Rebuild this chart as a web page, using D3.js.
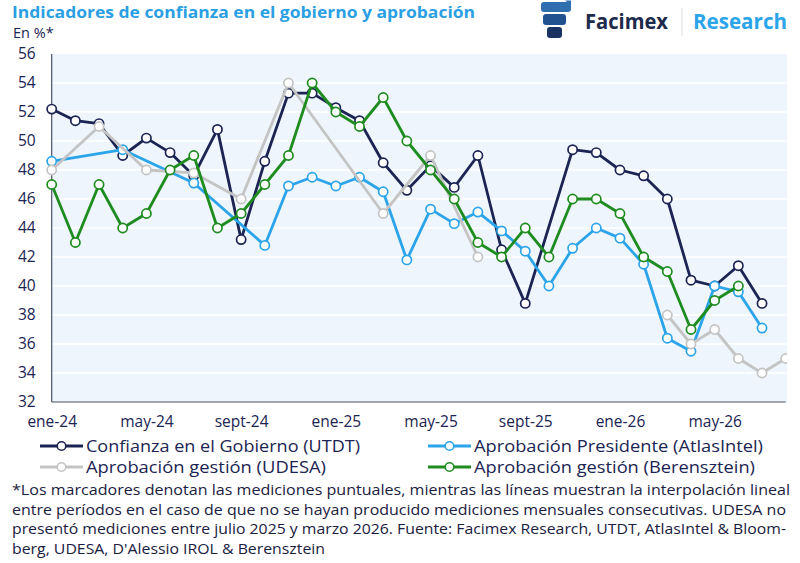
<!DOCTYPE html>
<html><head><meta charset="utf-8">
<script src="https://cdn.jsdelivr.net/npm/d3@7"></script>
<style>
html,body{margin:0;padding:0;background:#fff;}
svg{display:block;font-family:"Open Sans",Lato,sans-serif;}
</style></head>
<body><svg id="c" width="800" height="563"></svg>
<script>
// ---- data ----
const months = ["ene-24","feb-24","mar-24","abr-24","may-24","jun-24","jul-24","ago-24","sept-24","oct-24","nov-24","dic-24",
"ene-25","feb-25","mar-25","abr-25","may-25","jun-25","jul-25","ago-25","sept-25","oct-25","nov-25","dic-25",
"ene-26","feb-26","mar-26","abr-26","may-26","jun-26","jul-26","ago-26"];
const tickLabels = ["ene-24","may-24","sept-24","ene-25","may-25","sept-25","ene-26","may-26"];
const yTicks = [32,34,36,38,40,42,44,46,48,50,52,54,56];
const utdt = [52.2,51.4,51.2,49.0,50.2,49.2,47.6,50.8,43.2,48.6,53.3,53.3,52.3,51.4,48.5,46.6,48.3,46.8,49.0,42.5,38.8,null,49.4,49.2,48.0,47.6,46.0,40.4,40.0,41.4,38.8,null];
const atlas = [48.6,null,null,49.4,null,null,47.1,null,null,42.8,46.9,47.5,46.9,47.5,46.5,41.8,45.3,44.3,45.1,43.8,42.4,40.0,42.6,44.0,43.3,41.5,36.4,35.5,40.0,39.6,37.1,null];
const udesa = [48,null,51,null,48,null,47.8,null,46,null,54,null,null,null,45,null,49,null,42,null,null,null,null,null,null,null,38,36,37,35,34,35];
const berensztein = [47,43,47,44,45,48,49,44,45,47,49,54,52,51,53,50,48,46,43,42,44,42,46,46,45,42,41,37,39,40,null,null];
const seriesNames = ["Confianza en el Gobierno (UTDT)","Aprobación Presidente (AtlasIntel)","Aprobación gestión (UDESA)","Aprobación gestión (Berensztein)"];
const seriesColors = ["#1b2452","#2ba4e9","#c4c4c4","#1f8c1f"];
const maxGapMonths = 6; // UDESA sin mediciones jul-25 a mar-26: no se une
const title = "Indicadores de confianza en el gobierno y aprobación";
const subtitle = "En %*";
const footnote = [
"*Los marcadores denotan las mediciones puntuales, mientras las líneas muestran la interpolación lineal",
"entre períodos en el caso de que no se hayan producido mediciones mensuales consecutivas. UDESA no",
"presentó mediciones entre julio 2025 y marzo 2026. Fuente: Facimex Research, UTDT, AtlasIntel & Bloom-",
"berg, UDESA, D'Alessio IROL & Berensztein"];
const allSeries = [utdt, atlas, udesa, berensztein];

// ---- layout ----
const svg = d3.select("#c");
const L = 51.7, R = 785.7, T = 54, B = 402;
const x = d3.scaleLinear().domain([0, months.length-1]).range([L, R]);
const y = d3.scaleLinear().domain([32,56]).range([B, T]);
const navy = "#1b2452";

// header
svg.append("text").attr("x",12).attr("y",18).attr("fill","#2b9fe3")
  .attr("font-size",16).attr("font-weight",700).attr("textLength",463).attr("lengthAdjust","spacingAndGlyphs").text(title);
svg.append("text").attr("x",13).attr("y",38).attr("fill",navy).attr("font-size",14.5).text(subtitle);

// logo
const lg = svg.append("g");
lg.append("path").attr("d","M541,5 Q541,2 544,2 L567,2 Q571,2 571,5 L571,9 Q571,12 568,12 L544,12 Q541,12 541,9 Z").attr("fill","#2f6fb0");
lg.append("path").attr("d","M565,0.5 L571,0.5 L571,5 Z").attr("fill","#2f6fb0");
lg.append("rect").attr("x",543).attr("y",14).attr("width",23).attr("height",11).attr("rx",3).attr("fill","#21518f");
lg.append("rect").attr("x",547).attr("y",27).attr("width",15).attr("height",11).attr("rx",3).attr("fill","#1a3262");
lg.append("text").attr("x",585).attr("y",29).attr("fill","#1c2a4c").attr("font-size",21).attr("font-weight",700)
  .attr("textLength",83).attr("lengthAdjust","spacingAndGlyphs").text("Facimex");
lg.append("line").attr("x1",682).attr("x2",682).attr("y1",8).attr("y2",36).attr("stroke","#dadde2").attr("stroke-width",1);
lg.append("text").attr("x",693).attr("y",29).attr("fill","#2ba4e9").attr("font-size",21).attr("font-weight",700)
  .attr("textLength",94).attr("lengthAdjust","spacingAndGlyphs").text("Research");

// plot background + grid
svg.append("rect").attr("x",L).attr("y",T).attr("width",787-L).attr("height",B-T).attr("fill","#eef5fc");
svg.append("g").selectAll("line").data(yTicks.filter(v=>v>32&&v<56)).join("line")
  .attr("x1",L).attr("x2",787).attr("y1",d=>y(d)).attr("y2",d=>y(d)).attr("stroke","#ffffff").attr("stroke-width",1.5);

// axes
const yAx = svg.append("g").attr("transform",`translate(${L},0)`)
  .call(d3.axisLeft(y).tickValues(yTicks).tickSize(0).tickPadding(16).tickFormat(d3.format("d")));
yAx.select(".domain").remove();
yAx.selectAll("text").attr("font-size",15.5).attr("fill",navy).attr("font-family","Open Sans, sans-serif");
svg.append("line").attr("x1",L).attr("x2",L).attr("y1",T).attr("y2",B).attr("stroke","#4a5066").attr("stroke-width",1.2);

const tickIdx = tickLabels.map(t=>months.indexOf(t));
const xAx = svg.append("g").attr("transform",`translate(0,${B})`)
  .call(d3.axisBottom(x).tickValues(tickIdx).tickSize(0).tickPadding(14).tickFormat(i=>months[i]));
xAx.select(".domain").remove();
xAx.selectAll("text").attr("font-size",15.5).attr("fill",navy).attr("font-family","Open Sans, sans-serif");
svg.append("line").attr("x1",L).attr("x2",R).attr("y1",B).attr("y2",B).attr("stroke","#4a5066").attr("stroke-width",1.2);

// clip
svg.append("clipPath").attr("id","pc").append("rect").attr("x",0).attr("y",0).attr("width",787).attr("height",563);

// series
const line = d3.line().x(d=>x(d.i)).y(d=>y(d.v));
const plot = svg.append("g").attr("clip-path","url(#pc)");
allSeries.forEach((s,k)=>{
  const pts = s.map((v,i)=>({i,v})).filter(d=>d.v!==null);
  const segs = [];
  pts.forEach((p,j)=>{
    if (j===0 || p.i - pts[j-1].i > maxGapMonths) segs.push([]);
    segs[segs.length-1].push(p);
  });
  const g = plot.append("g");
  segs.forEach(sg=>g.append("path").attr("d",line(sg)).attr("fill","none")
    .attr("stroke",seriesColors[k]).attr("stroke-width",2.8).attr("stroke-linejoin","round"));
  g.selectAll("circle").data(pts).join("circle").attr("cx",d=>x(d.i)).attr("cy",d=>y(d.v)).attr("r",4.6)
    .attr("fill","#fff").attr("stroke",seriesColors[k]).attr("stroke-width",1.7);
});

// legend
const legPos = [[40,446],[428,446],[40,467],[428,467]];
const legW = [274, 289, 240, 281];
seriesNames.forEach((n,k)=>{
  const [lx,ly] = legPos[k];
  const g = svg.append("g");
  g.append("line").attr("x1",lx).attr("x2",lx+43).attr("y1",ly).attr("y2",ly).attr("stroke",seriesColors[k]).attr("stroke-width",3);
  g.append("circle").attr("cx",lx+21.5).attr("cy",ly).attr("r",4.3).attr("fill","#fff").attr("stroke",seriesColors[k]).attr("stroke-width",1.6);
  g.append("text").attr("x",lx+46).attr("y",ly+6).attr("fill",navy).attr("font-size",17)
    .attr("textLength",legW[k]).attr("lengthAdjust","spacingAndGlyphs").text(n);
});

// footnote
const fnW = [778, 774, 774, 313];
footnote.forEach((t,i)=>{
  svg.append("text").attr("x",12).attr("y",495+i*19.5).attr("fill","#1a2040").attr("font-size",14)
    .attr("textLength",fnW[i]).attr("lengthAdjust","spacingAndGlyphs").text(t);
});
</script></body></html>
